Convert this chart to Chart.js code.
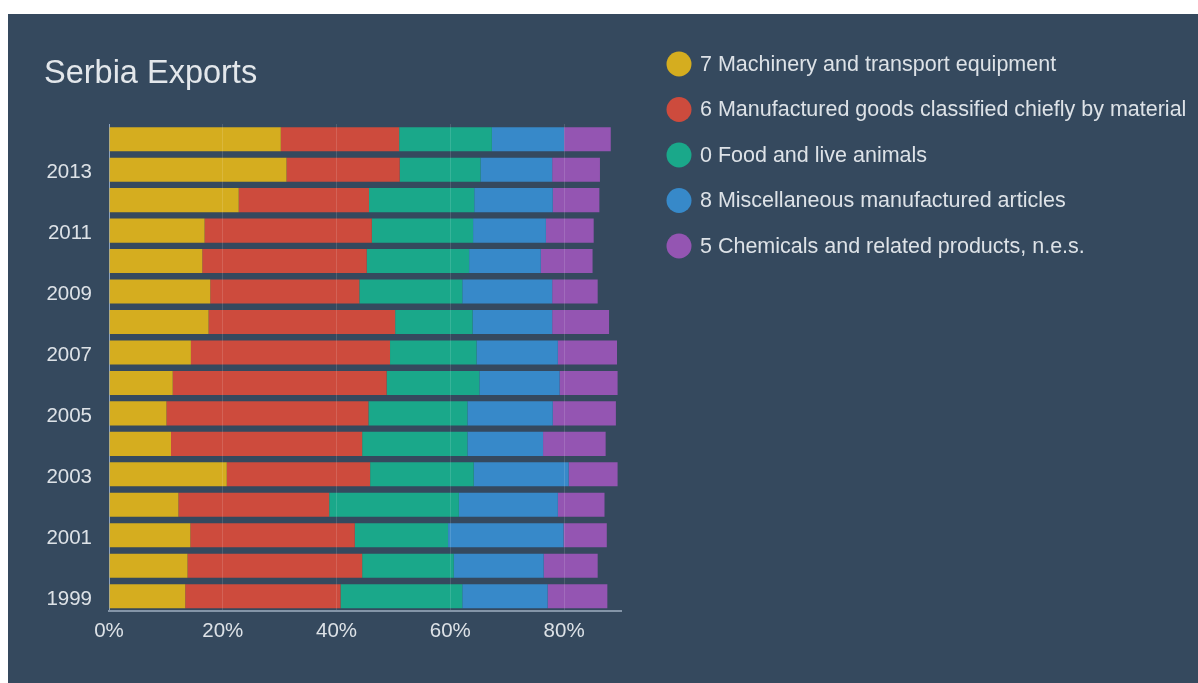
<!DOCTYPE html>
<html>
<head>
<meta charset="utf-8">
<title>Serbia Exports</title>
<script src="https://cdn.jsdelivr.net/npm/chart.js@4.4.0/dist/chart.umd.min.js"></script>
<style>
  body { margin: 0; background: #ffffff; }
  #wrap { position: absolute; left: 8px; top: 14px; width: 1190px; height: 669px; background: #35495e; }
</style>
</head>
<body>
<div id="wrap"><canvas id="exportsChart"></canvas></div>
<script>
// share of total exports, %
const years = [1999, 2000, 2001, 2002, 2003, 2004, 2005, 2006, 2007, 2008, 2009, 2010, 2011, 2012, 2013, 2014];
const machinery = [13.4, 13.8, 14.3, 12.2, 20.7, 10.9, 10.1, 11.2, 14.4, 17.5, 17.8, 16.4, 16.8, 22.8, 31.2, 30.2];
const manufactured = [27.3, 30.7, 28.9, 26.5, 25.2, 33.6, 35.5, 37.6, 35.0, 32.8, 26.2, 28.9, 29.4, 22.9, 19.9, 20.8];
const food = [21.4, 16.1, 16.4, 22.8, 18.2, 18.5, 17.4, 16.3, 15.2, 13.6, 18.1, 18.0, 17.8, 18.5, 14.2, 16.3];
const misc = [15.0, 15.8, 20.3, 17.4, 16.7, 13.3, 15.0, 14.1, 14.3, 14.0, 15.8, 12.6, 12.8, 13.8, 12.6, 12.7];
const chemicals = [10.5, 9.5, 7.6, 8.2, 8.6, 11.0, 11.1, 10.2, 10.4, 10.0, 8.0, 9.1, 8.4, 8.2, 8.4, 8.2];
const xTicks = [0, 20, 40, 60, 80];

const FONT = "'Liberation Sans', Arial, sans-serif";
const TEXT = "#dde2e7";

// legend drawn to the right of the plot
const sideLegend = {
  id: "sideLegend",
  afterDraw(chart, args, opts) {
    const ctx = chart.ctx;
    ctx.save();
    ctx.font = opts.fontSize + "px " + FONT;
    ctx.textBaseline = "middle";
    ctx.textAlign = "left";
    chart.data.datasets.forEach((ds, i) => {
      const cy = opts.top + i * opts.step;
      ctx.fillStyle = ds.backgroundColor;
      ctx.beginPath();
      ctx.arc(opts.left, cy, opts.radius, 0, Math.PI * 2);
      ctx.fill();
      ctx.fillStyle = TEXT;
      ctx.fillText(ds.label, opts.textLeft, cy + 1);
    });
    ctx.restore();
  },
};

const ctx = document.getElementById("exportsChart").getContext("2d");
let exportsChart = new Chart(ctx, {
  type: "bar",
  data: {
    labels: years,
    datasets: [
      { label: "7 Machinery and transport equipment", data: machinery, backgroundColor: "#d5ad1f" },
      { label: "6 Manufactured goods classified chiefly by material", data: manufactured, backgroundColor: "#cd4b3d" },
      { label: "0 Food and live animals", data: food, backgroundColor: "#1aa88a" },
      { label: "8 Miscellaneous manufactured articles", data: misc, backgroundColor: "#3789c9" },
      { label: "5 Chemicals and related products, n.e.s.", data: chemicals, backgroundColor: "#9455b2" },
    ],
  },
  options: {
    indexAxis: "y",
    responsive: true,
    maintainAspectRatio: false,
    animation: false,
    datasets: {
      bar: { categoryPercentage: 1, barPercentage: 0.79, borderWidth: 0 },
    },
    layout: {
      padding: { left: 36, top: 0, right: 577, bottom: 31 },
    },
    scales: {
      x: {
        stacked: true,
        min: 0,
        max: 90,
        afterBuildTicks: (axis) => {
          axis.ticks = xTicks.map((v) => ({ value: v }));
        },
        ticks: {
          color: TEXT,
          font: { family: FONT, size: 20.5 },
          padding: 8,
          callback: (v) => v + "%",
        },
        grid: { color: "rgba(255,255,255,0.13)", drawTicks: false, z: 1 },
        border: { color: "#8495a8", width: 2, z: 1 },
      },
      y: {
        stacked: true,
        reverse: true,
        afterFit: (scale) => {
          scale.width = 65;
        },
        ticks: {
          autoSkip: false,
          color: TEXT,
          font: { family: FONT, size: 20.5 },
          padding: 17,
          labelOffset: 3,
          callback: (v, i) => (years[i] % 2 === 1 ? String(years[i]) : ""),
        },
        grid: { display: false, drawTicks: false },
        border: { color: "#7b93b5", width: 1 },
      },
    },
    plugins: {
      title: {
        display: true,
        text: "Serbia Exports",
        align: "start",
        color: "#e3e7eb",
        font: { family: FONT, size: 32.5, weight: "normal" },
        padding: { top: 41, bottom: 30 },
      },
      legend: { display: false },
      tooltip: { enabled: false },
      sideLegend: { left: 671, top: 50, step: 45.5, radius: 12.5, textLeft: 692, fontSize: 21.5 },
    },
  },
  plugins: [sideLegend],
});
</script>
</body>
</html>
